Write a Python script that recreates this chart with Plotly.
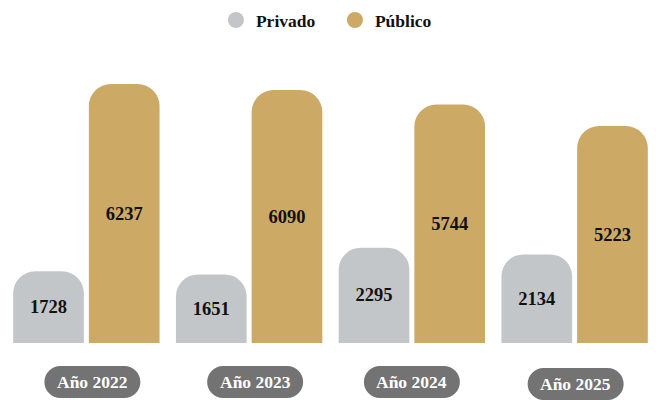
import plotly.graph_objects as go

years = ["Año 2022", "Año 2023", "Año 2024", "Año 2025"]
privado = [1728, 1651, 2295, 2134]
publico = [6237, 6090, 5744, 5223]

GRAY = "#C3C6C9"
GOLD = "#CDA966"
PILL = "#737373"
FONT = "Liberation Serif"

# small pixel nudges of the label pills (x, y) as seen in the original layout
pill_nudge = [(6, 0), (6, 0), (0, 0), (1, -2)]

fig = go.Figure()
for name, vals, col in [("Privado", privado, GRAY), ("Público", publico, GOLD)]:
    fig.add_trace(go.Bar(
        x=years, y=vals, name=name, marker=dict(color=col, line=dict(width=0)),
        text=[str(v) for v in vals], textposition="inside", insidetextanchor="middle",
        textangle=0,
        textfont=dict(family=FONT, size=18.5, color="#111111", weight="bold"),
        showlegend=False, hoverinfo="skip",
    ))
    fig.add_trace(go.Scatter(
        x=[None], y=[None], mode="markers", name=name,
        marker=dict(symbol="circle", size=16, color=col), showlegend=True,
    ))

def pill_path(dx, dy):
    k = 8.84
    pts = [(-32, -16), (32, -16), (32 + k, -16), (48, -k), (48, 0), (48, k), (32 + k, 16), (32, 16),
           (-32, 16), (-32 - k, 16), (-48, k), (-48, 0), (-48, -k), (-32 - k, -16), (-32, -16)]
    p = [(x + dx, y + dy) for x, y in pts]
    f = lambda q: "%g,%g" % q
    return ("M {} L {} C {} {} {} C {} {} {} L {} C {} {} {} C {} {} {} Z").format(*[f(q) for q in p])

shapes = []
annotations = []
for y, (dx, dy) in zip(years, pill_nudge):
    shapes.append(dict(type="path", xref="x", yref="paper", xsizemode="pixel", ysizemode="pixel",
                       xanchor=y, yanchor=-0.138, path=pill_path(dx, dy), fillcolor=PILL,
                       line=dict(width=0), layer="above"))
    annotations.append(dict(x=y, y=-0.138, xref="x", yref="paper", text="<b>%s</b>" % y,
                            showarrow=False, yanchor="middle", xshift=dx, yshift=dy,
                            font=dict(family=FONT, size=17.5, color="white")))

fig.update_layout(
    width=656, height=400,
    margin=dict(l=5, r=0, t=60, b=57),
    paper_bgcolor="white", plot_bgcolor="white",
    barmode="group", bargap=0.07, bargroupgap=0.066, barcornerradius=22,
    font=dict(family=FONT, color="#111111"),
    xaxis=dict(showticklabels=False, showgrid=False, zeroline=False, showline=False, ticks=""),
    yaxis=dict(range=[0, 6815], visible=False, showgrid=False, zeroline=False),
    legend=dict(orientation="h", x=0.324, xanchor="left", y=1.141, yanchor="middle",
                font=dict(family=FONT, size=17.5, color="#111111", weight="bold"),
                entrywidth=74, entrywidthmode="pixels", bgcolor="rgba(0,0,0,0)"),
    shapes=shapes, annotations=annotations,
)

fig.write_html("out.html", config={"displayModeBar": False},
               post_script="document.body.style.margin='0';")
